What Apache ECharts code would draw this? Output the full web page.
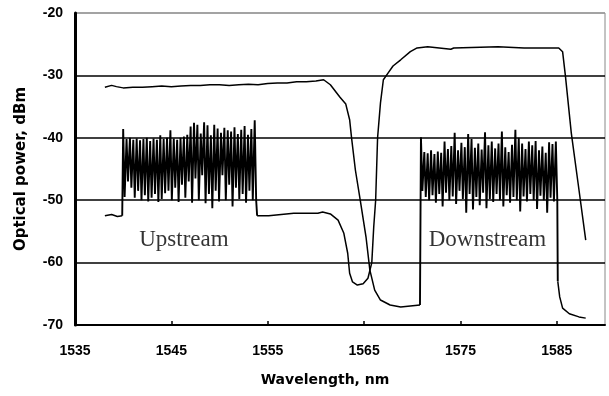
<!DOCTYPE html>
<html><head><meta charset="utf-8">
<script src="https://cdn.jsdelivr.net/npm/echarts@6/dist/echarts.min.js"></script>
<style>html,body{margin:0;padding:0;background:#fff}#c{width:609px;height:396px}</style>
</head><body><div id="c"></div>
<script>
// Axis ticks
const xMin = 1535, xMax = 1590, xStep = 10;
const yMin = -70, yMax = -20, yStep = 10;
const xName = 'Wavelength, nm';
const yName = 'Optical power, dBm';

// Trace A: starts high (-32 dBm), falls to ASE floor, carries downstream channels
const aLeft = [[1538.1,-31.9],[1538.8,-31.6],[1539.3,-31.8],[1540.0,-32.0],[1541,-31.9],[1542,-31.9],[1543,-31.8],[1544,-31.7],[1545,-31.8],[1546,-31.7],[1547,-31.6],[1548,-31.6],[1549,-31.5],[1550,-31.5],[1551,-31.6],[1552,-31.5],[1553,-31.4],[1554,-31.5],[1555,-31.3],[1556,-31.2],[1557,-31.2],[1558,-31.0],[1559,-31.0],[1560,-30.9],[1560.8,-30.7],[1561.5,-31.5],[1562.5,-33.5],[1563.1,-34.6],[1563.5,-37.1],[1563.7,-40],[1564.1,-45.2],[1564.6,-50],[1565.2,-55.9],[1565.6,-61.2],[1566.1,-64.4],[1566.7,-66.0],[1567.7,-66.8],[1568.8,-67.1],[1570.8,-66.8]];
const aRight = [[1585.1,-63.0],[1585.3,-65.5],[1585.6,-67.3],[1586.3,-68.2],[1587.3,-68.7],[1588.0,-68.9]];

// Downstream channels (on trace A)
const dnWl = [1570.9,1571.25,1571.6,1571.95,1572.3,1572.65,1573.0,1573.35,1573.7,1574.05,1574.4,1574.75,1575.1,1575.45,1575.8,1576.15,1576.5,1576.85,1577.2,1577.55,1577.9,1578.25,1578.6,1578.95,1579.3,1579.65,1580.0,1580.35,1580.7,1581.05,1581.4,1581.75,1582.1,1582.45,1582.8,1583.15,1583.5,1583.85,1584.2,1584.55,1584.9];
const dnHigh = [-39.9,-42.3,-42.5,-42.0,-42.6,-42.2,-42.4,-40.6,-41.8,-41.3,-39.2,-42.0,-40.8,-41.5,-39.4,-40.2,-41.6,-40.9,-41.9,-39.1,-41.2,-40.6,-41.7,-40.9,-39.0,-41.5,-42.3,-41.1,-38.7,-40.0,-40.9,-41.8,-40.6,-41.2,-40.5,-42.0,-41.4,-42.4,-40.7,-41.0,-40.6];
const dnLow = [-48.5,-49.5,-50.0,-49.2,-50.4,-49.0,-51.0,-48.8,-50.0,-49.4,-50.6,-48.5,-49.8,-52.0,-49.0,-51.5,-49.5,-50.8,-48.8,-51.3,-49.8,-50.3,-49.0,-50.0,-51.0,-49.2,-50.4,-49.5,-50.0,-51.8,-49.4,-50.2,-49.0,-50.0,-51.4,-49.3,-50.0,-52.0,-49.6,-50.2,-50.0];

// Trace B: starts low (-52.5 dBm), carries upstream channels, then the high band
const bLeft = [[1538.1,-52.5],[1538.8,-52.3],[1539.4,-52.6],[1539.9,-52.5]];
const bRight = [[1553.9,-52.5],[1555.1,-52.5],[1557.7,-52.1],[1560.2,-52.1],[1560.7,-51.9],[1561.5,-52.2],[1562.3,-53.2],[1562.9,-55.3],[1563.3,-58.5],[1563.5,-61.7],[1563.8,-63.1],[1564.3,-63.6],[1564.9,-63.4],[1565.4,-62.5],[1565.8,-60],[1566.0,-54.3],[1566.2,-50],[1566.4,-40],[1566.7,-34.4],[1567.0,-30.7],[1567.5,-29.6],[1568.0,-28.5],[1568.8,-27.5],[1569.8,-26.2],[1570.5,-25.6],[1571.6,-25.4],[1574.0,-25.8],[1574.3,-25.6],[1578.9,-25.4],[1581.6,-25.6],[1585.2,-25.6],[1585.6,-26.2],[1585.9,-30.2],[1586.5,-39.2],[1587.2,-47.2],[1588.0,-56.4]];

// Upstream channels (on trace B)
const upWl = [1540.0,1540.35,1540.7,1541.05,1541.4,1541.75,1542.1,1542.45,1542.8,1543.15,1543.5,1543.85,1544.2,1544.55,1544.9,1545.25,1545.6,1545.95,1546.3,1546.65,1547.0,1547.35,1547.7,1548.05,1548.4,1548.75,1549.1,1549.45,1549.8,1550.15,1550.5,1550.85,1551.2,1551.55,1551.9,1552.25,1552.6,1552.95,1553.3,1553.65];
const upHigh = [-38.6,-40.2,-40.0,-40.3,-40.1,-40.4,-40.2,-40.0,-40.5,-40.1,-40.3,-39.6,-40.2,-40.0,-38.8,-40.1,-40.3,-40.0,-39.8,-39.5,-38.2,-37.6,-37.9,-39.3,-37.5,-38.0,-39.6,-37.9,-38.5,-39.2,-38.4,-38.8,-39.0,-38.3,-39.4,-38.7,-38.1,-39.5,-38.6,-37.2];
const upLow = [-49.5,-47.0,-48.0,-49.6,-48.5,-50.0,-49.2,-50.2,-49.6,-49.0,-50.3,-49.8,-48.9,-48.5,-50.0,-48.0,-50.3,-47.5,-49.6,-47.0,-50.4,-46.5,-50.0,-46.0,-50.5,-49.0,-51.3,-48.5,-50.2,-46.0,-50.0,-47.5,-51.0,-48.0,-49.8,-49.0,-50.4,-48.5,-50.0,-50.0];

// Annotations
const noteText = ['Upstream', 'Downstream'];
const noteX = [1546.3, 1577.8];
const noteY = [-56.4, -56.4];

function zig(wl, hi, lo) {
  const out = [];
  for (let i = 0; i < wl.length; i++) {
    out.push([wl[i], hi[i]]);
    out.push([wl[i] + 0.15, lo[i]]);
  }
  return out;
}
const dnSig = [aLeft[aLeft.length - 1]].concat(zig(dnWl, dnHigh, dnLow), [aRight[0]]);
const upSig = [bLeft[bLeft.length - 1]].concat(zig(upWl, upHigh, upLow), [bRight[0]]);
const notes = noteText.map((t, i) => [noteX[i], noteY[i], t]);

const chart = echarts.init(document.getElementById('c'));
const boldFont = 'Liberation Sans, Arial, sans-serif';
const curve = (d, w) => ({ type: 'line', data: d, showSymbol: false, symbol: 'none', lineStyle: { color: '#000', width: w }, z: 3 });
chart.setOption({
  animation: false,
  backgroundColor: '#fff',
  grid: { left: 75, right: 4, top: 13, bottom: 71, show: true, borderColor: '#888', borderWidth: 1 },
  xAxis: {
    type: 'value', min: xMin, max: xMax, interval: xStep,
    name: xName, nameLocation: 'middle', nameGap: 48,
    nameTextStyle: { fontFamily: 'DejaVu Sans, sans-serif', fontWeight: 'bold', fontSize: 14, color: '#000', padding: [0, 30, 0, 0] },
    axisLine: { lineStyle: { color: '#000', width: 2 } },
    axisTick: { inside: true, length: 4, lineStyle: { color: '#000', width: 1.5 } },
    axisLabel: { margin: 19, color: '#000', fontWeight: 'bold', fontSize: 14, fontFamily: boldFont, showMaxLabel: false, formatter: v => String(v) },
    splitLine: { show: false }
  },
  yAxis: {
    type: 'value', min: yMin, max: yMax, interval: yStep,
    name: yName, nameLocation: 'middle', nameGap: 46,
    nameTextStyle: { fontFamily: 'DejaVu Sans, sans-serif', fontWeight: 'bold', fontSize: 15, color: '#000' },
    axisLine: { show: true, lineStyle: { color: '#000', width: 3 } },
    axisTick: { show: false },
    axisLabel: { margin: 12, color: '#000', fontWeight: 'bold', fontSize: 14, fontFamily: boldFont },
    splitLine: { show: true, lineStyle: { color: ['#000', '#000', '#000', '#000', '#000', '#999'], width: 1.6 } }
  },
  series: [
    curve(aLeft, 1.5), curve(dnSig, 1.9), curve(aRight, 1.5),
    curve(bLeft, 1.5), curve(upSig, 1.9), curve(bRight, 1.5),
    { type: 'scatter', data: notes, symbolSize: 0, silent: true, z: 4,
      label: { show: true, position: 'inside', formatter: p => p.value[2],
        fontFamily: 'Liberation Serif, Times New Roman, serif', fontSize: 23, color: '#000' } }
  ]
});
</script></body></html>
